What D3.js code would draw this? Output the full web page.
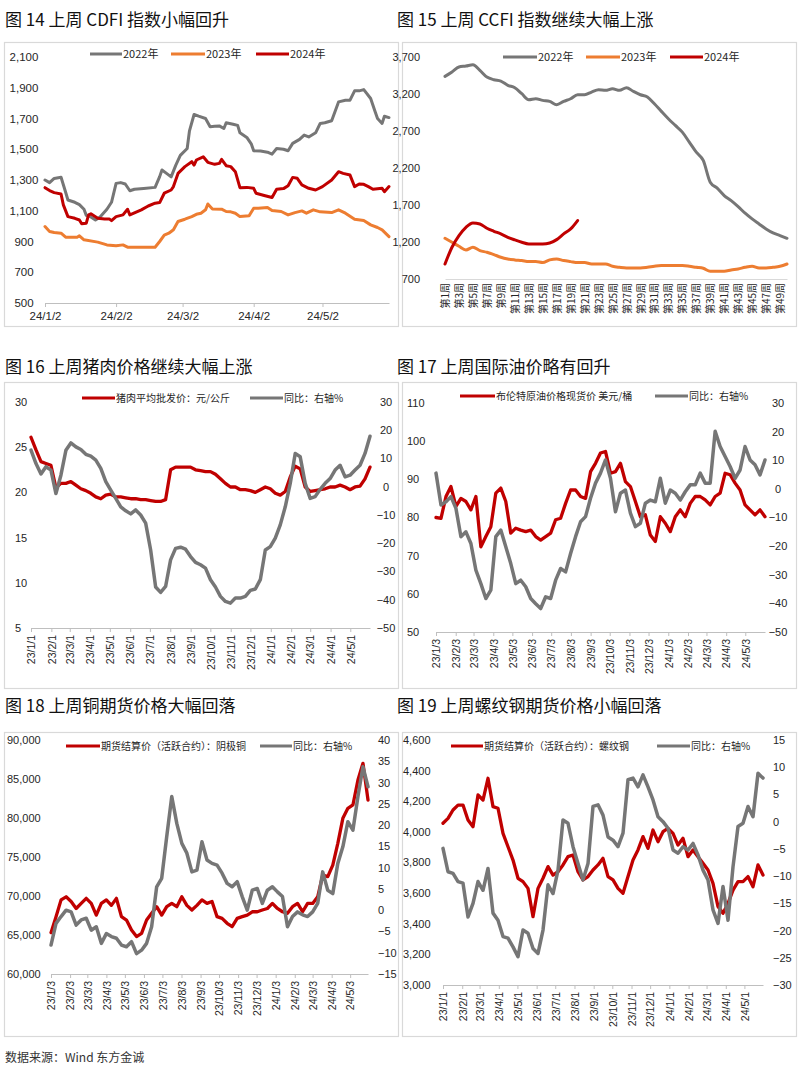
<!DOCTYPE html>
<html><head><meta charset="utf-8">
<script src="https://cdn.jsdelivr.net/npm/d3@7"></script>
<style>
body{margin:0;background:#fff;}
</style></head><body>
<svg id="c" width="800" height="1079" xmlns="http://www.w3.org/2000/svg"></svg>
<script>
// ---------------- DATA ----------------
// Fig 14 CDFI : [days since 24/1/2, value]
const cdfiTickLabels = ["24/1/2","24/2/2","24/3/2","24/4/2","24/5/2"];
const cdfiYTicks = [500,700,900,1100,1300,1500,1700,1900,2100];
const cdfiSeriesNames = ["2022年","2023年","2024年"];
const cdfi2022 = [[0,1300],[2,1283],[4,1310],[7,1318],[9,1220],[10,1170],[13,1155],[15,1140],[17,1110],[18,1070],[20,1060],[22,1040],[24,1060],[27,1110],[29,1155],[31,1278],[33,1283],[35,1274],[37,1230],[39,1240],[43,1245],[48,1252],[50,1322],[51,1365],[53,1343],[55,1320],[57,1395],[59,1460],[62,1505],[63,1620],[65,1726],[67,1715],[70,1700],[72,1646],[74,1650],[76,1652],[78,1635],[79,1672],[82,1663],[84,1655],[85,1607],[88,1577],[90,1533],[91,1490],[94,1488],[97,1481],[99,1468],[101,1505],[104,1500],[106,1490],[108,1538],[111,1564],[113,1592],[115,1580],[118,1607],[120,1668],[122,1672],[125,1685],[128,1808],[131,1819],[133,1819],[135,1880],[137,1880],[139,1888],[142,1830],[144,1743],[145,1700],[147,1668],[148,1715],[150,1706]];
const cdfi2023 = [[0,997],[2,965],[4,958],[7,954],[9,928],[14,928],[15,937],[17,911],[23,896],[27,878],[31,872],[34,878],[36,863],[48,863],[50,900],[52,941],[54,954],[56,976],[58,1030],[61,1045],[64,1062],[66,1077],[68,1084],[70,1106],[71,1144],[73,1112],[77,1110],[79,1095],[81,1093],[83,1084],[85,1062],[89,1067],[91,1116],[93,1116],[97,1121],[99,1101],[103,1095],[106,1073],[109,1088],[112,1099],[114,1084],[117,1106],[120,1093],[125,1088],[128,1106],[131,1084],[135,1045],[139,1036],[142,1008],[145,991],[147,976],[150,932]];
const cdfi2024 = [[0,1250],[2,1231],[4,1218],[7,1209],[8,1138],[10,1062],[13,1051],[15,1040],[16,1015],[18,1019],[19,1073],[20,1080],[23,1051],[26,1047],[28,1047],[29,1036],[31,1062],[34,1073],[36,1110],[37,1073],[42,1106],[45,1131],[48,1149],[50,1153],[52,1214],[55,1235],[56,1257],[58,1343],[61,1387],[64,1419],[65,1397],[66,1430],[69,1451],[71,1415],[74,1402],[76,1408],[77,1434],[79,1393],[81,1387],[83,1354],[85,1250],[88,1252],[91,1246],[92,1214],[96,1198],[99,1186],[101,1240],[104,1244],[106,1263],[108,1317],[110,1311],[112,1268],[115,1246],[118,1235],[121,1257],[125,1300],[128,1354],[130,1343],[133,1332],[135,1257],[137,1274],[139,1272],[141,1257],[143,1240],[147,1246],[148,1224],[150,1257]];

// Fig 15 CCFI weekly
const ccfiYTicks = [700,1200,1700,2200,2700,3200,3700];
const ccfi2022 = [3438,3497,3565,3578,3596,3520,3429,3393,3375,3317,3285,3204,3123,3136,3114,3100,3055,3100,3136,3190,3190,3226,3258,3249,3271,3249,3285,3235,3190,3159,3068,2965,2865,2775,2685,2550,2414,2302,2008,1927,1828,1760,1679,1589,1512,1444,1377,1323,1287,1250];
const ccfi2023 = [1250,1196,1142,1093,1129,1084,1061,1030,994,971,958,949,935,935,922,958,971,949,935,922,922,903,903,903,872,858,849,849,849,858,872,881,881,881,881,872,858,845,804,804,804,822,836,858,872,849,849,858,872,903];
const ccfi2024 = [903,1129,1287,1399,1458,1444,1386,1345,1309,1264,1228,1196,1174,1174,1174,1187,1232,1309,1377,1490];

// Fig 16 pork
const porkTickLabels = ["23/1/1","23/2/1","23/3/1","23/4/1","23/5/1","23/6/1","23/7/1","23/8/1","23/9/1","23/10/1","23/11/1","23/12/1","24/1/1","24/2/1","24/3/1","24/4/1","24/5/1"];
const porkLeftTicks = [5,10,15,20,25,30];
const porkRightTicks = [-50,-40,-30,-20,-10,0,10,20,30];
const porkPrice = [26.1,24.7,23.4,23.2,23.0,20.5,21.0,21.0,21.2,20.8,20.4,20.2,19.9,19.5,19.3,19.7,19.8,19.5,19.5,19.4,19.3,19.3,19.2,19.2,19.1,19.0,19.0,19.2,22.5,22.8,22.8,22.8,22.8,22.5,22.4,22.3,22.3,22.0,21.5,21.0,20.6,20.6,20.3,20.3,20.2,20.0,20.3,20.6,20.4,19.9,19.7,20.1,21.7,22.9,22.6,20.6,20.1,20.2,20.3,20.4,20.6,20.6,20.8,20.6,20.3,20.6,20.7,21.5,22.8];
const porkYoY = [13,8.2,4.5,7.1,5.9,-2.4,4.1,12.9,15.5,14.1,13.2,11.5,10.8,9.4,6.5,1.8,-1.2,-4.1,-7.1,-8.5,-9.6,-8.2,-10,-12.9,-22.4,-35.5,-37.4,-35.3,-25.9,-21.8,-21.4,-22.1,-24.7,-26.8,-27.6,-28.8,-32.9,-35.5,-38.8,-40.6,-41.2,-39.4,-39.4,-38.8,-36.7,-36.2,-32.9,-22.4,-21.2,-18.2,-13.5,-7.1,1.2,11.8,10.6,1.2,-4.1,-3.5,-0.9,1.2,2.9,5.9,7.6,3.5,4.1,5.9,7.6,11.8,17.9];

// Fig 17 Brent
const oilTickLabels = ["23/1/3","23/2/3","23/3/3","23/4/3","23/5/3","23/6/3","23/7/3","23/8/3","23/9/3","23/10/3","23/11/3","23/12/3","24/1/3","24/2/3","24/3/3","24/4/3","24/5/3"];
const oilLeftTicks = [50,60,70,80,90,100,110];
const oilRightTicks = [-50,-40,-30,-20,-10,0,10,20,30];
const oilPrice = [80,79.8,85.5,88.1,82.9,85.0,84.2,82.0,85.5,72.3,75.0,77.6,86.4,87.7,84.2,75.9,77.2,76.7,76.3,76.7,75.0,74.1,75.0,75.9,79.4,79.8,83.7,87.2,87.2,85.5,85.0,92.0,94.2,96.9,97.3,91.6,92.0,94.2,89.4,88.1,84.2,80.2,80.7,75.4,73.7,80.2,78.5,76.3,80.2,82.0,80.2,83.7,85.5,85.5,84.6,83.3,85.5,86.4,91.6,91.2,89.0,87.2,83.3,82.0,80.7,82.0,80.2];
const oilYoY = [5.5,-5.6,-4.5,-2.7,-6.8,-16.7,-15.0,-19.1,-28.4,-33.1,-38.3,-35.4,-16.7,-14.4,-20.2,-26.1,-33.1,-31.9,-34.2,-38.3,-40.1,-41.8,-37.7,-38.3,-31.9,-27.8,-29.0,-22.6,-16.7,-11.5,-9.7,-3.3,2.0,5.5,10.1,3.7,-8.0,-1.5,-0.4,-8.5,-13.2,-12.0,-5.0,-3.9,-4.5,3.7,-5.0,-0.4,-1.5,-3.9,-1.0,1.4,1.4,5.5,2.0,2.0,20.1,14.8,11.3,7.8,3.7,6.6,14.8,10.1,8.4,4.9,10.1];

// Fig 18 copper
const cuTickLabels = oilTickLabels;
const cuLeftTicks = [60000,65000,70000,75000,80000,85000,90000];
const cuRightTicks = [-15,-10,-5,0,5,10,15,20,25,30,35,40];
const cuPrice = [65300,67350,69500,69900,69300,68400,69050,69700,69050,67550,69050,69500,68800,69700,67350,66920,65640,64800,65200,66920,67800,68630,67550,68630,69050,68630,69900,68800,68200,68800,69500,69050,69300,67350,67130,66500,66070,67130,67350,67550,67980,67980,68200,68400,69050,68400,67980,67780,68630,69050,67980,69050,69050,69900,72690,72480,73970,76750,79960,81240,81670,84870,87010,82300];
const cuYoY = [-8.2,-3.1,-1.5,0.0,-0.4,-3.5,-2.3,-1.9,-4.7,-3.9,-7.8,-5.5,-6.2,-6.6,-8.2,-8.6,-7.4,-10.2,-9.4,-7.8,-3.9,5.5,7.5,17.3,26.7,20.4,15.7,13.4,9.0,9.4,16.1,11.8,11.0,10.6,8.7,6.3,5.5,6.7,3.2,0.0,4.7,5.1,1.6,4.7,5.5,4.3,3.2,-3.9,-1.5,-0.4,-1.1,-1.5,-0.4,1.6,9.0,4.7,3.9,11.0,14.9,20.8,18.8,26.7,33.7,29.0];

// Fig 19 rebar
const rbTickLabels = porkTickLabels;
const rbLeftTicks = [3000,3200,3400,3600,3800,4000,4200,4400,4600];
const rbRightTicks = [-30,-25,-20,-15,-10,-5,0,5,10,15];
const rbPrice = [4056,4088,4143,4175,4175,4078,4034,4241,4208,4350,4165,4154,3990,3903,3816,3697,3675,3631,3446,3631,3697,3773,3718,3740,3784,3838,3849,3740,3686,3708,3751,3784,3827,3708,3686,3631,3599,3708,3816,3882,3969,3892,4012,3936,4001,4023,3990,3914,3958,3838,3882,3838,3795,3751,3664,3512,3468,3533,3620,3675,3675,3708,3642,3784,3718];
const rbYoY = [-4.9,-9.2,-9.5,-11.0,-11.3,-17.5,-15.0,-11.0,-12.6,-8.6,-16.8,-18.1,-21.1,-21.4,-23.0,-24.8,-19.9,-20.5,-23.3,-24.2,-19.9,-11.6,-13.2,-8.9,0.3,-0.3,-4.6,-7.7,-10.7,-7.7,2.8,3.1,1.2,-2.8,-3.4,-4.6,-2.1,7.7,8.0,6.4,8.6,6.4,4.0,0.9,0.0,-1.2,-5.2,-5.8,-4.6,-5.2,-4.0,-6.1,-8.9,-10.7,-16.2,-18.7,-11.9,-18.1,-8.3,-0.9,-0.3,2.8,0.9,8.9,8.0];

// ---------------- DRAWING ----------------
const svg = d3.select("#c");
const NUM = '"Liberation Sans", Arial, "Noto Sans CJK SC", sans-serif';
const CJK = '"Noto Sans CJK SC", "Liberation Sans", sans-serif';
const GRAY = "#767676", RED = "#c00000", ORANGE = "#ed7d31", AX = "#bfbfbf", TXT = "#262626";
const parseLbl = s => { const p = s.split("/"); return new Date(2000 + (+p[0]), +p[1] - 1, +p[2]); };
const parseISO = d3.timeParse("%Y-%m-%d");

svg.append("rect").attr("width",800).attr("height",1079).attr("fill","#fff");

function box(x0,y0,x1,y1){
  svg.append("rect").attr("x",x0+0.5).attr("y",y0+0.5).attr("width",x1-x0).attr("height",y1-y0)
    .attr("fill","none").attr("stroke","#d9d9d9").attr("stroke-width",1.2);
}
function title(x,y,t){
  svg.append("text").attr("x",x).attr("y",y).attr("font-family",CJK).attr("font-size",17)
    .attr("fill","#111").text(t);
}
function legend(y, items, fs){
  items.forEach(it=>{
    svg.append("line").attr("x1",it.x0).attr("x2",it.x1).attr("y1",y).attr("y2",y)
      .attr("stroke",it.color).attr("stroke-width",3);
    svg.append("text").attr("x",it.x1+1).attr("y",y).attr("dy","0.36em").attr("font-family",CJK)
      .attr("font-size",fs).attr("fill",TXT).text(it.label);
  });
}
function yLabels(scale, ticks, x, anchor, fmt, fs){
  const g = svg.append("g");
  g.selectAll("text").data(ticks).join("text")
    .attr("x",x).attr("y",d=>scale(d)).attr("dy","0.36em").attr("text-anchor",anchor)
    .attr("font-family",NUM).attr("font-size",fs).attr("fill",TXT).text(fmt);
}
function path(data, line, color, w){
  svg.append("path").datum(data).attr("d",line).attr("fill","none").attr("stroke",color)
    .attr("stroke-width",w).attr("stroke-linejoin","round").attr("stroke-linecap","round");
}

// ---- Fig 14 ----
(function(){
  box(4,42,398,326);
  title(5,26,"图 14 上周 CDFI 指数小幅回升");
  const t0 = parseLbl(cdfiTickLabels[0]);
  const t1 = d3.timeDay.offset(t0,150);
  const x = d3.scaleTime().domain([t0,t1]).range([45,389]);
  const y = d3.scaleLinear().domain([500,2100]).range([303,57]);
  const ax = svg.append("g").attr("transform","translate(0,303)")
    .call(d3.axisBottom(x).tickValues(cdfiTickLabels.map(parseLbl)).tickFormat((d,i)=>cdfiTickLabels[i]).tickSize(4).tickSizeOuter(0).tickPadding(5));
  ax.select(".domain").attr("stroke",AX);
  ax.selectAll(".tick line").attr("stroke",AX);
  ax.selectAll("text").attr("font-family",NUM).attr("font-size",11.5).attr("fill",TXT);
  yLabels(y, cdfiYTicks, 24, "middle", d3.format(","), 11.5);
  const line = d3.line().x(d=>x(d3.timeDay.offset(t0,d[0]))).y(d=>y(d[1]));
  path(cdfi2022, line, GRAY, 3);
  path(cdfi2023, line, ORANGE, 3);
  path(cdfi2024, line, RED, 3);
  legend(54,[{x0:90,x1:122,color:GRAY,label:cdfiSeriesNames[0]},{x0:171,x1:205,color:ORANGE,label:cdfiSeriesNames[1]},{x0:256,x1:289,color:RED,label:cdfiSeriesNames[2]}],11);
})();

// ---- Fig 15 ----
(function(){
  box(402,42,796,326);
  title(397,26,"图 15 上周 CCFI 指数继续大幅上涨");
  const weeks = d3.range(1,51).map(i=>`第${i}周`);
  const x = d3.scalePoint().domain(weeks).range([445,787]);
  const y = d3.scaleLinear().domain([700,3700]).range([279,57]);
  const ax = svg.append("g").attr("transform","translate(0,279)")
    .call(d3.axisBottom(x).tickValues(weeks.filter((d,i)=>i%2===0)).tickSize(0).tickSizeOuter(0));
  ax.select(".domain").attr("stroke","#d9d9d9");
  ax.selectAll("text").attr("font-family",CJK).attr("font-size",10).attr("fill",TXT)
    .attr("transform","rotate(-90)").attr("text-anchor","end").attr("x",-4).attr("y",0).attr("dy","0.36em");
  yLabels(y, ccfiYTicks, 420, "end", d3.format(","), 11);
  const line = d3.line().x((d,i)=>x(weeks[i])).y(d=>y(d)).curve(d3.curveMonotoneX);
  path(ccfi2022, line, GRAY, 3);
  path(ccfi2023, line, ORANGE, 3);
  path(ccfi2024, line, RED, 3);
  legend(57,[{x0:503,x1:537,color:GRAY,label:cdfiSeriesNames[0]},{x0:586,x1:620,color:ORANGE,label:cdfiSeriesNames[1]},{x0:670,x1:703,color:RED,label:cdfiSeriesNames[2]}],11);
})();

// ---- dual axis charts ----
function dual(c){
  box(c.bx0,c.by0,c.bx1,c.by1);
  title(c.tx,c.ty,c.title);
  const t0 = parseISO(c.start), t1 = parseISO(c.end);
  const x = d3.scaleTime().domain([t0,t1]).range([c.x0,c.x1]);
  const yl = d3.scaleLinear().domain(d3.extent(c.lt)).range([c.yb,c.yt]);
  const yr = d3.scaleLinear().domain(d3.extent(c.rt)).range([c.yb,c.yt]);
  const ax = svg.append("g").attr("transform",`translate(0,${c.yb})`)
    .call(d3.axisBottom(x).tickValues(c.xl.map(parseLbl)).tickFormat((d,i)=>c.xl[i]).tickSize(4).tickSizeOuter(0));
  ax.select(".domain").attr("stroke",AX);
  ax.selectAll(".tick line").attr("stroke",AX);
  ax.selectAll("text").attr("font-family",NUM).attr("font-size",10.5).attr("fill",TXT)
    .attr("transform","rotate(-90)").attr("text-anchor","end").attr("x",-7).attr("y",0).attr("dy","0.36em");
  yLabels(yl, c.lt, c.llx, c.lla, c.lfmt, 11);
  yLabels(yr, c.rt, c.rlx, c.rla, d3.format("d"), 11);
  const dateAt = (i,n) => new Date(+t0 + (t1 - t0) * i / (n - 1));
  const lineL = d3.line().x((d,i,a)=>x(dateAt(i,a.length))).y(d=>yl(d));
  const lineR = d3.line().x((d,i,a)=>x(dateAt(i,a.length))).y(d=>yr(d));
  path(c.left, lineL, RED, 3.3);
  path(c.right, lineR, GRAY, 3.5);
  legend(c.ly,[{x0:c.lg[0],x1:c.lg[1],color:RED,label:c.names[0]},{x0:c.lg[2],x1:c.lg[3],color:GRAY,label:c.names[1]}],10);
}

dual({bx0:4,by0:382,bx1:398,by1:688,tx:5,ty:373,title:"图 16 上周猪肉价格继续大幅上涨",
  start:"2023-01-01",end:"2024-05-31",x0:31,x1:370,yt:402,yb:628,
  lt:porkLeftTicks,rt:porkRightTicks,xl:porkTickLabels,llx:15,lla:"start",lfmt:d3.format("d"),rlx:386,rla:"middle",
  left:porkPrice,right:porkYoY,ly:398,lg:[82,115,250,283],names:["猪肉平均批发价：元/公斤","同比：右轴%"]});

dual({bx0:402,by0:382,bx1:796,by1:688,tx:397,ty:373,title:"图 17 上周国际油价略有回升",
  start:"2023-01-03",end:"2024-06-03",x0:436,x1:765,yt:403,yb:632,
  lt:oilLeftTicks,rt:oilRightTicks,xl:oilTickLabels,llx:407,lla:"start",lfmt:d3.format("d"),rlx:778,rla:"middle",
  left:oilPrice,right:oilYoY,ly:396,lg:[460,495,655,688],names:["布伦特原油价格现货价 美元/桶","同比：右轴%"]});

dual({bx0:4,by0:732,bx1:398,by1:1036,tx:5,ty:712,title:"图 18 上周铜期货价格大幅回落",
  start:"2023-01-03",end:"2024-06-01",x0:51,x1:368,yt:740,yb:974,
  lt:cuLeftTicks,rt:cuRightTicks,xl:cuTickLabels,llx:7,lla:"start",lfmt:d3.format(","),rlx:378,rla:"start",
  left:cuPrice,right:cuYoY,ly:746,lg:[66,100,260,292],names:["期货结算价（活跃合约）：阴极铜","同比：右轴%"]});

dual({bx0:402,by0:732,bx1:796,by1:1036,tx:397,ty:712,title:"图 19 上周螺纹钢期货价格小幅回落",
  start:"2023-01-01",end:"2024-05-31",x0:443,x1:763,yt:740,yb:985,
  lt:rbLeftTicks,rt:rbRightTicks,xl:rbTickLabels,llx:403,lla:"start",lfmt:d3.format(","),rlx:773,rla:"start",
  left:rbPrice,right:rbYoY,ly:746,lg:[451,483,657,690],names:["期货结算价（活跃合约）：螺纹钢","同比：右轴%"]});

svg.append("text").attr("x",5).attr("y",1062).attr("font-family",CJK).attr("font-size",12)
  .attr("fill","#333").text("数据来源：Wind 东方金诚");
</script>
</body></html>
